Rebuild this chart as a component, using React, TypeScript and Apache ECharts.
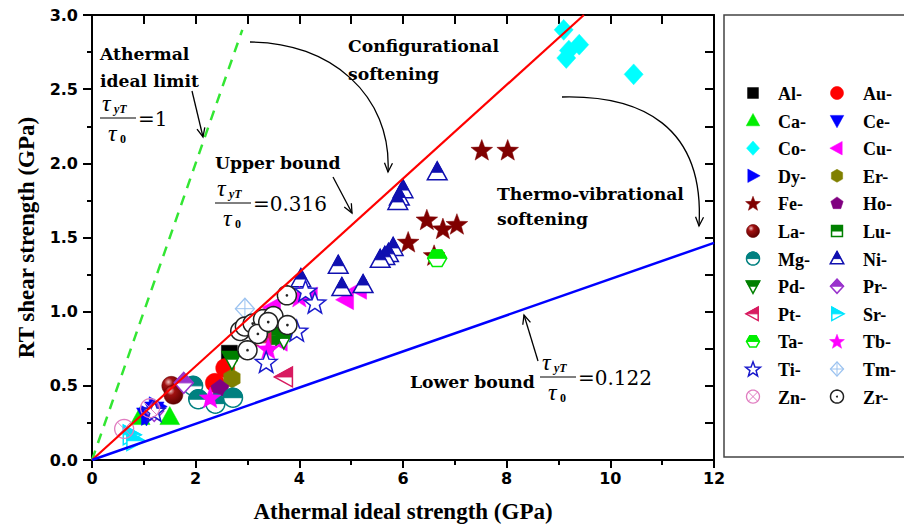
import React, { useEffect, useRef } from "react";
import * as echarts from "echarts";

// ---------- data (GPa) ----------
const AlData = [[2.65, 0.72]];
const AuData = [[2.37, 0.52], [2.57, 0.62]];
const CaData = [[0.93, 0.29], [1.5, 0.29]];
const CeData = [[1.05, 0.3], [1.2, 0.34]];
const CoData = [[9.1, 2.9], [9.4, 2.8], [9.2, 2.76], [9.15, 2.71], [10.45, 2.6]];
const CuData = [[3.3, 0.98], [3.49, 1.03], [4.2, 1.1], [4.9, 1.08], [5.15, 1.15], [3.62, 0.8]];
const DyData = [[1.1, 0.3], [1.25, 0.36]];
const ErData = [[2.7, 0.55]];
const FeData = [[7.52, 2.09], [8.02, 2.09], [6.46, 1.62], [6.77, 1.56], [7.04, 1.59], [6.1, 1.47], [6.6, 1.38]];
const HoData = [[2.47, 0.48]];
const LaData = [[1.53, 0.5], [1.57, 0.44]];
const LuData = [[3.45, 0.84]];
const MgData = [[1.95, 0.5], [2.05, 0.41], [2.38, 0.38], [2.72, 0.42]];
const NiData = [[6.66, 1.94], [6.0, 1.82], [5.93, 1.77], [5.9, 1.74], [5.81, 1.43], [5.72, 1.39], [5.65, 1.37], [5.56, 1.35], [4.75, 1.31], [4.82, 1.16], [5.23, 1.18], [4.03, 1.22]];
const PdData = [[2.7, 0.68], [3.3, 0.84], [3.55, 0.84], [3.7, 0.82], [3.45, 0.78]];
const PrData = [[1.77, 0.52], [1.2, 0.33]];
const PtData = [[3.72, 0.56], [3.3, 0.79]];
const SrData = [[0.75, 0.17], [0.82, 0.13]];
const TaData = [[6.66, 1.36]];
const TbData = [[2.28, 0.42], [3.4, 0.75], [4.0, 1.1]];
const TiData = [[4.12, 1.14], [4.3, 1.06], [3.95, 0.87], [3.36, 0.66], [1.2, 0.33]];
const TmData = [[2.95, 1.02]];
const ZnData = [[0.62, 0.21], [1.12, 0.35]];
const ZrData = [[3.76, 1.11], [2.86, 0.87], [2.95, 0.9], [3.1, 0.92], [3.3, 0.95], [3.5, 0.97], [3.77, 0.91], [3.0, 0.74], [3.2, 0.85], [3.4, 0.93]];

const athermalLimit = [[0, 0], [2.9, 2.9]];
const upperBound = [[0, 0], [9.49, 3.0]];
const lowerBound = [[0, 0], [12, 1.464]];

const elementNames = ["Al", "Au", "Ca", "Ce", "Co", "Cu", "Dy", "Er", "Fe", "Ho", "La", "Lu", "Mg", "Ni", "Pd", "Pr", "Pt", "Sr", "Ta", "Tb", "Ti", "Tm", "Zn", "Zr"];
const elementData: Record<string, number[][]> = {
  Al: AlData, Au: AuData, Ca: CaData, Ce: CeData, Co: CoData, Cu: CuData, Dy: DyData, Er: ErData,
  Fe: FeData, Ho: HoData, La: LaData, Lu: LuData, Mg: MgData, Ni: NiData, Pd: PdData, Pr: PrData,
  Pt: PtData, Sr: SrData, Ta: TaData, Tb: TbData, Ti: TiData, Tm: TmData, Zn: ZnData, Zr: ZrData,
};

// ---------- marker styles ----------
const STYLE: Record<string, { shape: string; color: string; mode: string }> = {
  Al: { shape: "square", color: "#000000", mode: "solid" },
  Au: { shape: "circle", color: "#ff0000", mode: "solid" },
  Ca: { shape: "triUp", color: "#00ee00", mode: "solid" },
  Ce: { shape: "triDown", color: "#0000ff", mode: "solid" },
  Co: { shape: "diamond", color: "#00ffff", mode: "solid" },
  Cu: { shape: "triLeft", color: "#ff00ff", mode: "solid" },
  Dy: { shape: "triRight", color: "#0000ff", mode: "solid" },
  Er: { shape: "hexagon", color: "#808000", mode: "solid" },
  Fe: { shape: "star", color: "#800000", mode: "solid" },
  Ho: { shape: "pentagon", color: "#800080", mode: "solid" },
  La: { shape: "circle", color: "#800000", mode: "sphere" },
  Lu: { shape: "square", color: "#008000", mode: "half" },
  Mg: { shape: "circle", color: "#008080", mode: "half" },
  Ni: { shape: "triUp", color: "#1010b0", mode: "half" },
  Pd: { shape: "triDown", color: "#008000", mode: "half" },
  Pr: { shape: "diamond", color: "#9932cc", mode: "half" },
  Pt: { shape: "triLeft", color: "#d81b60", mode: "half" },
  Sr: { shape: "triRight", color: "#00e5ff", mode: "half" },
  Ta: { shape: "hexFlat", color: "#00ee00", mode: "half" },
  Tb: { shape: "star", color: "#ff00ff", mode: "solid" },
  Ti: { shape: "star", color: "#1a1acc", mode: "open" },
  Tm: { shape: "diamond", color: "#9cc3f0", mode: "cross" },
  Zn: { shape: "circle", color: "#e07cc0", mode: "xcircle" },
  Zr: { shape: "circle", color: "#222222", mode: "dot" },
};

function regular(n: number, r: number, rot = 0) {
  const pts: number[][] = [];
  for (let i = 0; i < n; i++) {
    const a = rot + (i * 2 * Math.PI) / n;
    pts.push([r * Math.sin(a), -r * Math.cos(a)]);
  }
  return pts;
}
function starPts(r: number) {
  const pts: number[][] = [];
  for (let i = 0; i < 10; i++) {
    const a = (i * Math.PI) / 5;
    const rr = i % 2 === 0 ? r : r * 0.42;
    pts.push([rr * Math.sin(a), -rr * Math.cos(a) + r * 0.08]);
  }
  return pts;
}
const SHAPES: Record<string, (s: number) => number[][]> = {
  square: (s) => [[-0.42 * s, -0.42 * s], [0.42 * s, -0.42 * s], [0.42 * s, 0.42 * s], [-0.42 * s, 0.42 * s]],
  circle: (s) => regular(32, s / 2),
  triUp: (s) => [[0, -0.55 * s], [0.52 * s, 0.4 * s], [-0.52 * s, 0.4 * s]],
  triDown: (s) => [[0, 0.55 * s], [0.52 * s, -0.4 * s], [-0.52 * s, -0.4 * s]],
  triLeft: (s) => [[-0.55 * s, 0], [0.4 * s, -0.52 * s], [0.4 * s, 0.52 * s]],
  triRight: (s) => [[0.55 * s, 0], [-0.4 * s, -0.52 * s], [-0.4 * s, 0.52 * s]],
  diamond: (s) => [[0, -0.55 * s], [0.5 * s, 0], [0, 0.55 * s], [-0.5 * s, 0]],
  hexagon: (s) => regular(6, s / 2),
  hexFlat: (s) => regular(6, s / 2, Math.PI / 6),
  pentagon: (s) => regular(5, s / 2),
  star: (s) => starPts(s * 0.6),
};

function clipTop(pts: number[][]) {
  const out: number[][] = [];
  for (let i = 0; i < pts.length; i++) {
    const a = pts[i];
    const b = pts[(i + 1) % pts.length];
    const ina = a[1] <= 0;
    const inb = b[1] <= 0;
    if (ina) out.push(a);
    if (ina !== inb) {
      const t = a[1] / (a[1] - b[1]);
      out.push([a[0] + t * (b[0] - a[0]), 0]);
    }
  }
  return out;
}

function marker(key: string, cx: number, cy: number, s: number): any[] {
  const st = STYLE[key];
  const base = SHAPES[st.shape](s);
  const tr = (pts: number[][]) => pts.map((p) => [cx + p[0], cy + p[1]]);
  const c = st.color;
  const r = s / 2;
  switch (st.mode) {
    case "solid":
      return [{ type: "polygon", shape: { points: tr(base) }, style: { fill: c, stroke: c, lineWidth: 0.5 } }];
    case "half":
      return [
        { type: "polygon", shape: { points: tr(base) }, style: { fill: "#ffffff", stroke: c, lineWidth: 1.5 } },
        { type: "polygon", shape: { points: tr(clipTop(base)) }, style: { fill: c, stroke: c, lineWidth: 1 } },
      ];
    case "open":
      return [{ type: "polygon", shape: { points: tr(base) }, style: { fill: "#ffffff", stroke: c, lineWidth: 1.5 } }];
    case "sphere":
      return [
        {
          type: "polygon",
          shape: { points: tr(base) },
          style: {
            fill: new echarts.graphic.RadialGradient(0.35, 0.3, 0.75, [
              { offset: 0, color: "#f0c0c0" },
              { offset: 0.3, color: "#a01010" },
              { offset: 1, color: "#5a0000" },
            ]),
            stroke: "#600000",
            lineWidth: 0.5,
          },
        },
      ];
    case "dot":
      return [
        { type: "polygon", shape: { points: tr(base) }, style: { fill: "#ffffff", stroke: c, lineWidth: 1.5 } },
        { type: "circle", shape: { cx, cy, r: Math.max(1, s / 14) }, style: { fill: c } },
      ];
    case "xcircle":
      return [
        { type: "polygon", shape: { points: tr(base) }, style: { fill: "none", stroke: c, lineWidth: 1.3 } },
        { type: "line", shape: { x1: cx - r * 0.7, y1: cy - r * 0.7, x2: cx + r * 0.7, y2: cy + r * 0.7 }, style: { stroke: c, lineWidth: 1 } },
        { type: "line", shape: { x1: cx - r * 0.7, y1: cy + r * 0.7, x2: cx + r * 0.7, y2: cy - r * 0.7 }, style: { stroke: c, lineWidth: 1 } },
      ];
    case "cross":
      return [
        { type: "polygon", shape: { points: tr(base) }, style: { fill: "none", stroke: c, lineWidth: 1.3 } },
        { type: "line", shape: { x1: cx - r, y1: cy, x2: cx + r, y2: cy }, style: { stroke: c, lineWidth: 1 } },
        { type: "line", shape: { x1: cx, y1: cy - r * 1.1, x2: cx, y2: cy + r * 1.1 }, style: { stroke: c, lineWidth: 1 } },
      ];
  }
  return [];
}

// ---------- annotation helpers ----------
const ANN_FONT = 'bold 17.2px "DejaVu Serif"';
function label(text: string, x: number, y: number, font = ANN_FONT, align = "left"): any {
  return { type: "text", x, y, style: { text, font, fill: "#000", align, verticalAlign: "middle" } };
}
function arrowHead(tx: number, ty: number, fx: number, fy: number): any {
  const dx = tx - fx, dy = ty - fy;
  const L = Math.hypot(dx, dy) || 1;
  const ux = dx / L, uy = dy / L;
  const nx = -uy, ny = ux;
  const bx = tx - ux * 9, by = ty - uy * 9;
  return {
    type: "polyline",
    shape: { points: [[bx + nx * 4, by + ny * 4], [tx, ty], [bx - nx * 4, by - ny * 4]] },
    style: { stroke: "#000", lineWidth: 1.3, fill: "none" },
  };
}
function straightArrow(x1: number, y1: number, x2: number, y2: number): any[] {
  return [
    { type: "line", shape: { x1, y1, x2, y2 }, style: { stroke: "#000", lineWidth: 1.3 } },
    arrowHead(x2, y2, x1, y1),
  ];
}
function curvedArrow(x1: number, y1: number, cpx1: number, cpy1: number, cpx2: number, cpy2: number, x2: number, y2: number): any[] {
  return [
    { type: "bezierCurve", shape: { x1, y1, cpx1, cpy1, cpx2, cpy2, x2, y2 }, style: { stroke: "#000", lineWidth: 1.3, fill: "none" } },
    arrowHead(x2, y2, cpx2, cpy2),
  ];
}
function fraction(x: number, y: number, rhs: string): any[] {
  const tau = 'italic 24px "Liberation Serif"';
  return [
    label("τ", x + 2, y - 15, tau),
    label("yT", x + 14, y - 9, 'italic bold 12px "Liberation Serif"'),
    { type: "line", shape: { x1: x, y1: y, x2: x + 36, y2: y }, style: { stroke: "#000", lineWidth: 1 } },
    label("τ", x + 8, y + 15, tau),
    label("0", x + 20, y + 21, 'bold 12px "Liberation Serif"'),
    label("=" + rhs, x + 38, y + 1, '20px "DejaVu Serif"'),
  ];
}

const App: React.FC = () => {
  const ref = useRef<HTMLDivElement>(null);
  useEffect(() => {
    if (!ref.current) return;
    const chart = echarts.init(ref.current, null, { renderer: "svg" });

    const axisLine = { show: true, onZero: false, lineStyle: { color: "#000", width: 2 } };
    const tickFont = { fontFamily: "DejaVu Sans", fontWeight: "bold" as const, fontSize: 16, color: "#000" };
    const titleFont = { fontFamily: "Liberation Serif", fontWeight: "bold" as const, fontSize: 23, color: "#000" };

    const scatterSeries = elementNames.map((key) => ({
      type: "custom",
      name: key + "-",
      xAxisIndex: 0,
      yAxisIndex: 0,
      data: elementData[key],
      encode: { x: 0, y: 1 },
      renderItem: (params: any, api: any) => {
        const p = api.coord([api.value(0), api.value(1)]);
        return { type: "group", children: marker(key, p[0], p[1], 19) };
      },
    }));

    const lineSeries = [
      { data: athermalLimit, color: "#33e633", type: "dashed", width: 2.5 },
      { data: upperBound, color: "#ff0000", type: "solid", width: 2.2 },
      { data: lowerBound, color: "#0000ff", type: "solid", width: 2.5 },
    ].map((l) => ({
      type: "line",
      xAxisIndex: 0,
      yAxisIndex: 0,
      data: l.data,
      symbol: "none",
      lineStyle: { color: l.color, width: l.width, type: l.type === "dashed" ? [10, 8] : "solid" },
      z: 5,
    }));

    // legend drawn as graphic
    const legendEls: any[] = [
      { type: "rect", shape: { x: 724, y: 15, width: 220, height: 442 }, style: { fill: "none", stroke: "#444", lineWidth: 1.5 } },
    ];
    elementNames.forEach((key, i) => {
      const row = Math.floor(i / 2);
      const col = i % 2;
      const y = 93 + row * 27.6;
      const sx = col === 0 ? 753 : 837;
      const tx = col === 0 ? 778 : 863;
      legendEls.push(...marker(key, sx, y, 13));
      legendEls.push(label(key + "-", tx, y + 1, 'bold 18px "Liberation Serif"'));
    });

    const annotations: any[] = [
      label("Athermal", 100, 54),
      label("ideal limit", 100, 81),
      ...fraction(100, 118, "1"),
      ...straightArrow(192, 91, 203, 137),
      label("Configurational", 348, 46),
      label("softening", 348, 74),
      ...curvedArrow(250, 42, 330, 42, 392, 95, 388, 172),
      label("Upper bound", 215, 163),
      ...fraction(215, 203, "0.316"),
      ...straightArrow(333, 177, 352, 213),
      label("Thermo-vibrational", 497, 194),
      label("softening", 497, 219),
      ...curvedArrow(562, 97, 640, 95, 705, 125, 699, 226),
      label("Lower bound", 410, 382),
      ...fraction(540, 377, "0.122"),
      ...straightArrow(538, 361, 524, 315),
    ];

    chart.setOption({
      animation: false,
      backgroundColor: "#ffffff",
      grid: { left: 92, right: 190, top: 15, bottom: 70, containLabel: false },
      xAxis: [
        {
          type: "value", min: 0, max: 12, interval: 2, position: "bottom",
          name: "Athermal ideal strength (GPa)", nameLocation: "middle", nameGap: 40, nameTextStyle: titleFont,
          axisLine, axisTick: { show: true, inside: false, length: 8, lineStyle: { color: "#000", width: 2 } },
          minorTick: { show: true, splitNumber: 2, length: 5, lineStyle: { color: "#000", width: 2 } },
          splitLine: { show: false }, minorSplitLine: { show: false },
          axisLabel: { ...tickFont, margin: 10, formatter: (v: number) => String(v) },
        },
        {
          type: "value", min: 0, max: 12, interval: 1, position: "top",
          axisLine, axisTick: { show: true, inside: true, length: 9, lineStyle: { color: "#000", width: 2 } },
          splitLine: { show: false }, axisLabel: { show: false },
        },
      ],
      yAxis: [
        {
          type: "value", min: 0, max: 3, interval: 0.5, position: "left",
          name: "RT shear strength (GPa)", nameLocation: "middle", nameGap: 54, nameTextStyle: titleFont,
          axisLine, axisTick: { show: true, inside: false, length: 9, lineStyle: { color: "#000", width: 2 } },
          minorTick: { show: true, splitNumber: 2, length: 5, lineStyle: { color: "#000", width: 2 } },
          splitLine: { show: false }, minorSplitLine: { show: false },
          axisLabel: { ...tickFont, margin: 14, formatter: (v: number) => v.toFixed(1) },
        },
        {
          type: "value", min: 0, max: 3, interval: 0.25, position: "right",
          axisLine, axisTick: { show: true, inside: true, length: 9, lineStyle: { color: "#000", width: 2 } },
          splitLine: { show: false }, axisLabel: { show: false },
        },
      ],
      series: [...scatterSeries, ...lineSeries],
      graphic: { elements: [...annotations, ...legendEls] },
    } as any);

    return () => chart.dispose();
  }, []);
  return <div ref={ref} style={{ position: "fixed", left: 0, top: 0, width: 904, height: 530, background: "#fff" }} />;
};

export default App;
